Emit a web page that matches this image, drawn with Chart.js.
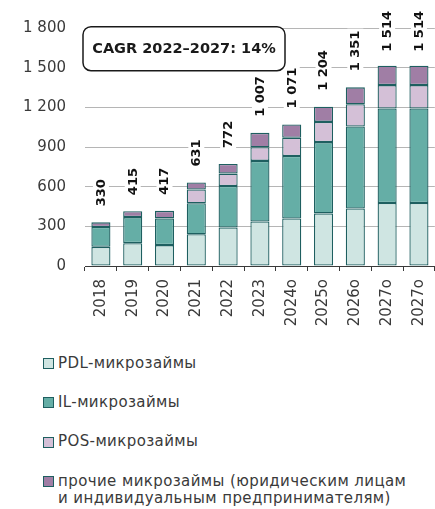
<!DOCTYPE html>
<html><head><meta charset="utf-8">
<script src="https://cdn.jsdelivr.net/npm/chart.js@4/dist/chart.umd.min.js"></script>
<style>
html,body{margin:0;padding:0;background:#fff;overflow:hidden;width:435px;height:509px;}
#wrap{position:absolute;left:0;top:0;width:445px;height:335px;}
#legend{position:absolute;left:0;top:0;width:435px;font-family:"DejaVu Sans",sans-serif;font-size:15px;color:#3a3a3a;letter-spacing:0.4px;}
.item{position:absolute;left:58px;line-height:17px;white-space:nowrap;}
.sw{position:absolute;left:-15.5px;top:3.5px;width:9px;height:9px;border:1px solid #1e5f60;}
</style></head>
<body>
<div id="wrap"><canvas id="c" width="445" height="335"></canvas></div>
<div id="legend"></div>
<script>
const categories = ['2018','2019','2020','2021','2022','2023','2024о','2025о','2026о','2027о','2027о'];
const pdl   = [145, 173, 158, 240, 291, 337, 359, 398, 435, 477, 477];
const il    = [150, 197, 202, 235, 314, 458, 473, 539, 620, 714, 714];
const pos   = [null, null, null, 104, 94, 103, 138, 153, 168, 177, 177];
const other = [35, 45, 57, 52, 73, 109, 101, 114, 128, 146, 146];
const totals = [330, 415, 417, 631, 772, 1007, 1071, 1204, 1351, 1514, 1514];
const yTicks = [0, 300, 600, 900, 1200, 1500, 1800];
const seriesNames = ['PDL-микрозаймы', 'IL-микрозаймы', 'POS-микрозаймы', 'прочие микрозаймы (юридическим лицам\nи индивидуальным предпринимателям)'];
const cagrText = 'CAGR 2022–2027: 14%';

const colors = ['#cfe5e2', '#65aea6', '#d4c0d7', '#a07ea5'];
const borderCol = '#1e5f60';
const txt = '#3a3a3a';

function fmt(v){ return String(v).replace(/\B(?=(\d{3})+(?!\d))/g, '\u00a0'); }

const seriesData = [pdl, il, pos, other];
const datasets = seriesData.map((d, i) => ({
  label: seriesNames[i],
  data: d,
  backgroundColor: colors[i],
  borderColor: borderCol,
  borderWidth: 1.3,
  borderSkipped: false,
  barPercentage: 0.6,
  categoryPercentage: 1.0
}));

const labelPlugin = {
  id: 'totals',
  afterDatasetsDraw(chart) {
    const ctx = chart.ctx;
    const y = chart.scales.y;
    const meta0 = chart.getDatasetMeta(0);
    ctx.save();
    ctx.font = 'bold 13px "DejaVu Sans"';
    ctx.textBaseline = 'middle';
    ctx.textAlign = 'left';
    categories.forEach((c, i) => {
      let sum = 0;
      seriesData.forEach(s => { sum += (s[i] || 0); });
      const x = meta0.data[i].x;
      const top = y.getPixelForValue(sum);
      const t = fmt(totals[i]);
      const w = ctx.measureText(t).width;
      let bottom = top - 16;
      if (bottom - w < 11) bottom = 11 + w;
      ctx.save();
      ctx.translate(x, bottom);
      ctx.rotate(-Math.PI / 2);
      ctx.fillStyle = '#fff';
      ctx.fillRect(-2, -8, w + 4, 16);
      ctx.fillStyle = '#111';
      ctx.fillText(t, 0, 0.5);
      ctx.restore();
    });
    ctx.restore();
  }
};

const boxPlugin = {
  id: 'cagr',
  afterDraw(chart) {
    const ctx = chart.ctx;
    const a = chart.chartArea;
    const x0 = a.left - 2, y0 = a.top - 1.3, w = 202, h = 44, r = 8;
    ctx.save();
    ctx.beginPath();
    ctx.roundRect(x0, y0, w, h, r);
    ctx.fillStyle = '#fff';
    ctx.fill();
    ctx.lineWidth = 1.5;
    ctx.strokeStyle = '#1a1a1a';
    ctx.stroke();
    ctx.font = 'bold 14.5px "DejaVu Sans"';
    ctx.fillStyle = '#1a1a1a';
    ctx.textAlign = 'center';
    ctx.textBaseline = 'middle';
    ctx.fillText(cagrText, x0 + w / 2, y0 + h / 2 + 0.5);
    ctx.restore();
  }
};

new Chart(document.getElementById('c'), {
  type: 'bar',
  data: { labels: categories, datasets },
  options: {
    responsive: false,
    animation: false,
    layout: { padding: { top: 22, right: 1.4, left: 0, bottom: 0 } },
    plugins: { legend: { display: false }, tooltip: { enabled: false } },
    scales: {
      x: {
        stacked: true,
        offset: true,
        grid: { display: true, drawOnChartArea: false, drawTicks: true, tickLength: 5, offset: true, color: txt },
        border: { display: true, color: txt, width: 1 },
        ticks: { color: txt, font: { family: 'DejaVu Sans', size: 15 }, minRotation: 90, maxRotation: 90, padding: 8, autoSkip: false },
        afterFit(s) { s.height = 69; }
      },
      y: {
        stacked: true,
        min: 0, max: 1800,
        afterBuildTicks(s) { s.ticks = yTicks.map(v => ({ value: v })); },
        grid: { color: '#b5b5b5', lineWidth: 1, drawTicks: false },
        border: { display: false },
        ticks: { color: txt, font: { family: 'DejaVu Sans', size: 15 }, padding: 19, callback: v => fmt(v) },
        afterFit(s) { s.width = 85; }
      }
    }
  },
  plugins: [labelPlugin, boxPlugin]
});

// HTML legend built from the series
const lg = document.getElementById('legend');
const tops = [354.5, 393.5, 433, 472.5];
seriesNames.forEach((n, i) => {
  const d = document.createElement('div');
  d.className = 'item';
  d.style.top = tops[i] + 'px';
  const sw = document.createElement('span');
  sw.className = 'sw';
  sw.style.background = colors[i];
  d.appendChild(sw);
  n.split('\n').forEach((line, k) => {
    if (k) d.appendChild(document.createElement('br'));
    d.appendChild(document.createTextNode(line));
  });
  lg.appendChild(d);
});
</script>
</body></html>
